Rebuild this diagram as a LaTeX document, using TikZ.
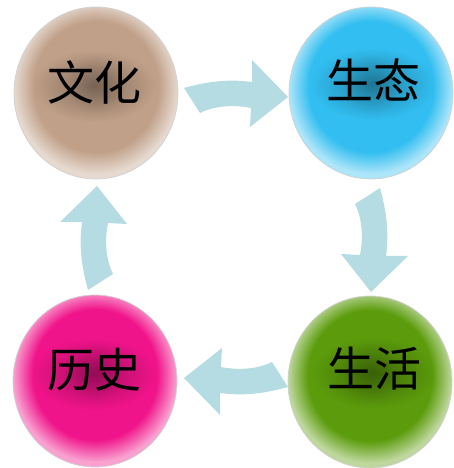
\documentclass[tikz,border=0pt]{standalone}
\usepackage{fontspec}
\newfontfamily\cjk{Noto Sans CJK SC}
\usetikzlibrary{shapes.geometric,fadings}
\definecolor{tanC}{RGB}{192,160,136}
\definecolor{cyanC}{RGB}{50,190,240}
\definecolor{greenC}{RGB}{92,156,12}
\definecolor{pinkC}{RGB}{240,20,138}
\definecolor{arrowC}{RGB}{180,220,226}
\newcommand\mkball[1]{\pgfdeclareradialshading{ball#1}{\pgfpoint{0bp}{3bp}}{color(0bp)=(#1!88!black); color(9bp)=(#1); color(19bp)=(#1); color(25bp)=(#1!40!white); color(50bp)=(#1!40!white)}}
\mkball{tanC}\mkball{cyanC}\mkball{greenC}\mkball{pinkC}
\tikzfading[name=softglow, inner color=transparent!0, outer color=transparent!100]
\tikzset{
  ball/.style={ellipse, draw=black!18, line width=0.7pt, minimum width=164pt, minimum height=172pt, inner sep=0pt},
  word/.style={font=\cjk\fontsize{47pt}{52pt}\selectfont, text=black, inner sep=0pt},
  glow/.style={fill=black, opacity=0.3, path fading=softglow},
  blockarrow/.pic={\fill[arrowC] (-52,7) .. controls (-20,16) and (0,15) .. (16,13) -- (16,35) -- (52,-2) -- (14,-32) -- (15,-13) .. controls (0,-10) and (-20,-10) .. (-36,-18) -- cycle;}
}
\begin{document}
\begin{tikzpicture}[x=1pt,y=1pt]
\useasboundingbox (0,0) rectangle (453,468);
\node[ball, shading=balltanC] (wh) at (96,375) {};
\node[ball, shading=ballcyanC] (st) at (371,375) {};
\node[ball, shading=ballgreenC] (sh) at (370,86) {};
\node[ball, shading=ballpinkC] (ls) at (95,87) {};
\fill[glow] (94,382) ellipse (62pt and 36pt);
\fill[glow] (373,384) ellipse (62pt and 36pt);
\fill[glow] (374,95) ellipse (62pt and 36pt);
\fill[glow] (94,94) ellipse (62pt and 36pt);
\node[word] (whT) at (94,386) {文化};
\node[word] (stT) at (373,388) {生态};
\node[word] (shT) at (374,99) {生活};
\node[word] (lsT) at (94,98) {历史};
\pic (a1) at (236,373) {blockarrow};
\pic[rotate=-90] (a2) at (373,228) {blockarrow};
\pic[rotate=180] (a3) at (236,88) {blockarrow};
\pic[rotate=90] (a4) at (95,230) {blockarrow};
\end{tikzpicture}
\end{document}
